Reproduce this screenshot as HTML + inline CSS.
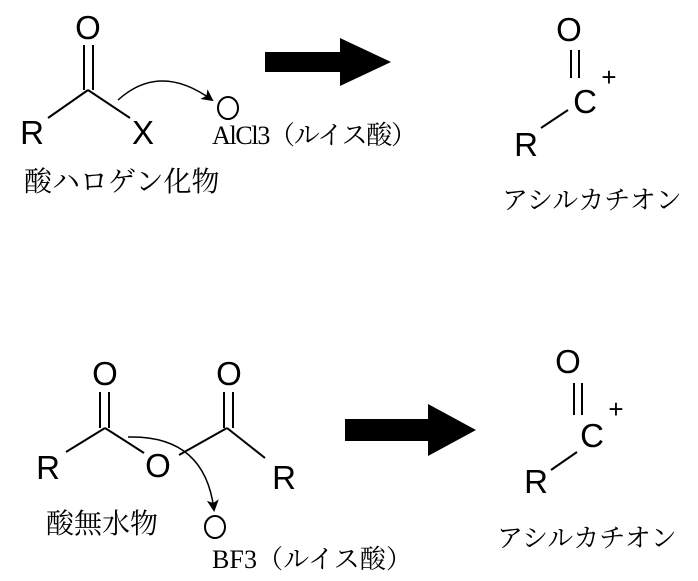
<!DOCTYPE html>
<html><head><meta charset="utf-8"><style>body{margin:0;background:#fff}svg{display:block}</style></head><body>
<svg width="698" height="581" xmlns="http://www.w3.org/2000/svg">
<defs><marker id="ah" markerWidth="12" markerHeight="12" refX="10" refY="6" orient="auto" markerUnits="userSpaceOnUse"><path d="M0,0 L12,6 L0,12 L3,6 z" fill="#000"/></marker></defs>
<g font-family="Liberation Sans, sans-serif" font-size="33" fill="#000" text-anchor="middle">
<text x="88" y="39">O</text>
<text x="32" y="144">R</text>
<text x="143" y="144">X</text>
<text x="569" y="41">O</text>
<text x="585" y="113">C</text>
<text x="526" y="156">R</text>
<text x="609" y="86" font-size="26">+</text>
<text x="105" y="385">O</text>
<text x="48" y="479">R</text>
<text x="158" y="477">O</text>
<text x="229" y="385">O</text>
<text x="284" y="489">R</text>
<text x="568" y="373">O</text>
<text x="592" y="447">C</text>
<text x="536" y="493">R</text>
<text x="616" y="418" font-size="26">+</text>
</g>
<g stroke="#000" stroke-width="2" fill="none">
<line x1="84" y1="45" x2="84" y2="90"/><line x1="93" y1="45" x2="93" y2="90"/>
<line x1="48" y1="118" x2="88" y2="90"/><line x1="88" y1="90" x2="130" y2="118"/>
<path d="M118,100 Q160,62 212,100" stroke-width="1.5" marker-end="url(#ah)"/>
<ellipse cx="228" cy="108" rx="10" ry="11"/>
<line x1="571" y1="50" x2="571" y2="78"/><line x1="579" y1="50" x2="579" y2="78"/>
<line x1="541" y1="128" x2="568" y2="110"/>
<line x1="100" y1="392" x2="100" y2="428"/><line x1="109" y1="392" x2="109" y2="428"/>
<line x1="66" y1="452" x2="105" y2="428"/><line x1="105" y1="428" x2="144" y2="453"/>
<line x1="179" y1="455" x2="227" y2="428"/>
<line x1="224" y1="392" x2="224" y2="428"/><line x1="233" y1="392" x2="233" y2="428"/>
<line x1="227" y1="428" x2="265" y2="458"/>
<path d="M128,437 Q205,435 214,510" stroke-width="1.5" marker-end="url(#ah)"/>
<ellipse cx="215" cy="527" rx="10" ry="11"/>
<line x1="574" y1="383" x2="574" y2="415"/><line x1="582" y1="383" x2="582" y2="415"/>
<line x1="551" y1="470" x2="577" y2="452"/>
</g>
<g fill="#000">
<rect x="265" y="52" width="78" height="20"/><path d="M340,38 L391,62 L340,86 z"/>
<rect x="345" y="419" width="85" height="22"/><path d="M428,404 L476,430 L428,456 z"/>
</g>
<g font-family="Liberation Serif, 'Noto Serif CJK SC', serif" font-size="26" fill="#000">
<text x="212" y="144" textLength="205">AlCl3（ルイス酸）</text>
<text x="24" y="191" font-size="28">酸ハロゲン化物</text>
<text x="502" y="209" font-size="26">アシルカチオン</text>
<text x="46" y="533" font-size="28">酸無水物</text>
<text x="212" y="568" textLength="200">BF3（ルイス酸）</text>
<text x="497" y="547" font-size="26">アシルカチオン</text>
</g>
</svg>
</body></html>
